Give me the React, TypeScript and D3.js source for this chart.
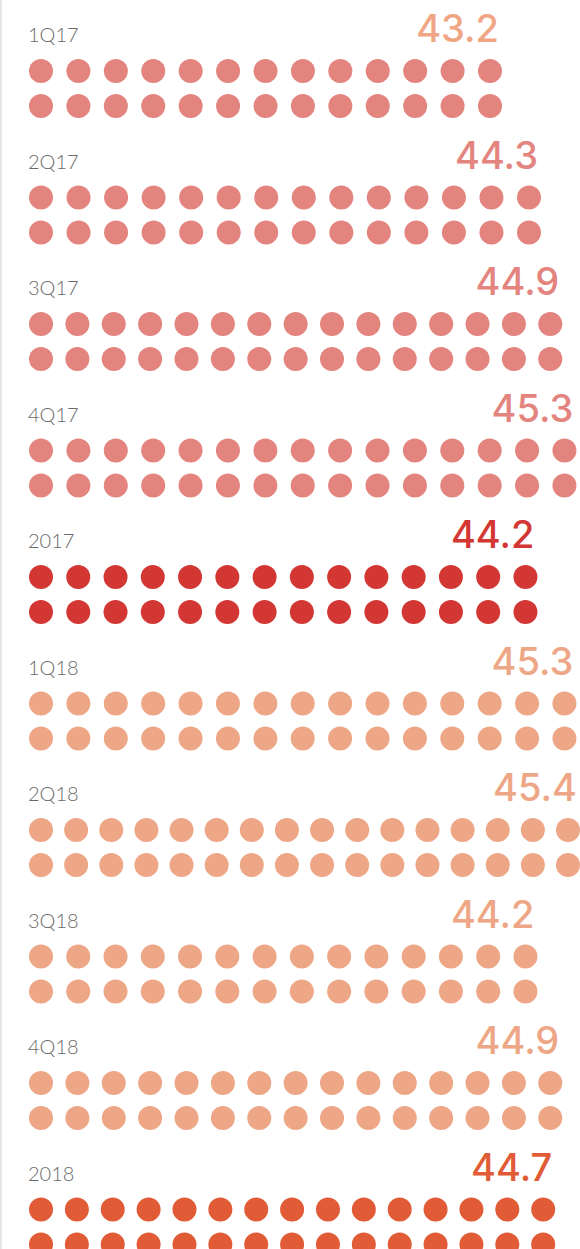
import React from "react";
import * as d3 from "d3";

const periods = ["1Q17", "2Q17", "3Q17", "4Q17", "2017", "1Q18", "2Q18", "3Q18", "4Q18", "2018"];
const values = [43.2, 44.3, 44.9, 45.3, 44.2, 45.3, 45.4, 44.2, 44.9, 44.7];
const dotsPerRow = [13, 14, 15, 15, 14, 15, 16, 14, 15, 15];
const dotColors = ["#e3847f", "#e3847f", "#e3847f", "#e3847f", "#d33734", "#eea786", "#eea786", "#eea786", "#eea786", "#e05b36"];
const valueColors = ["#f0a685", "#e3847f", "#e3847f", "#e3847f", "#d33734", "#eea786", "#eea786", "#eea786", "#eea786", "#e05b36"];
const rows = [0, 1];

const W = 580;
const H = 1249;
const firstX = 41;
const r = 12;

export default function App() {
  const lastX = d3.scaleLinear().domain([43.2, 45.4]).range([490, 568]);
  const yGroup = d3.scaleLinear().domain([0, periods.length - 1]).range([42, 42 + 126.5 * 9]);
  const yRow = d3.scaleLinear().domain([0, 1]).range([29, 64]);
  return (
    <svg width={W} height={H} style={{ position: "absolute", left: 0, top: 0, display: "block", background: "#fff" }}>
      <rect x={0} y={0} width={2} height={H} fill="#e6e6e6" />
      {periods.map((p, i) => {
        const n = dotsPerRow[i];
        const lx = lastX(values[i]);
        const xs = d3.scaleLinear().domain([0, n - 1]).range([firstX, lx]);
        const base = yGroup(i);
        return (
          <g key={p}>
            <text x={28} y={base} fontFamily="Lato, 'Open Sans', sans-serif" fontWeight={300} fontSize={20} fill="#6b6b6b">
              {p}
            </text>
            <text x={lx + r - 3} y={base} textAnchor="end" fontFamily="Inter, 'Open Sans', sans-serif" fontWeight={500} fontSize={38} fill={valueColors[i]}>
              {values[i].toFixed(1)}
            </text>
            {rows.map((row) =>
              d3.range(n).map((k) => (
                <circle key={`${row}-${k}`} cx={xs(k)} cy={base + yRow(row)} r={r} fill={dotColors[i]} />
              ))
            )}
          </g>
        );
      })}
    </svg>
  );
}
